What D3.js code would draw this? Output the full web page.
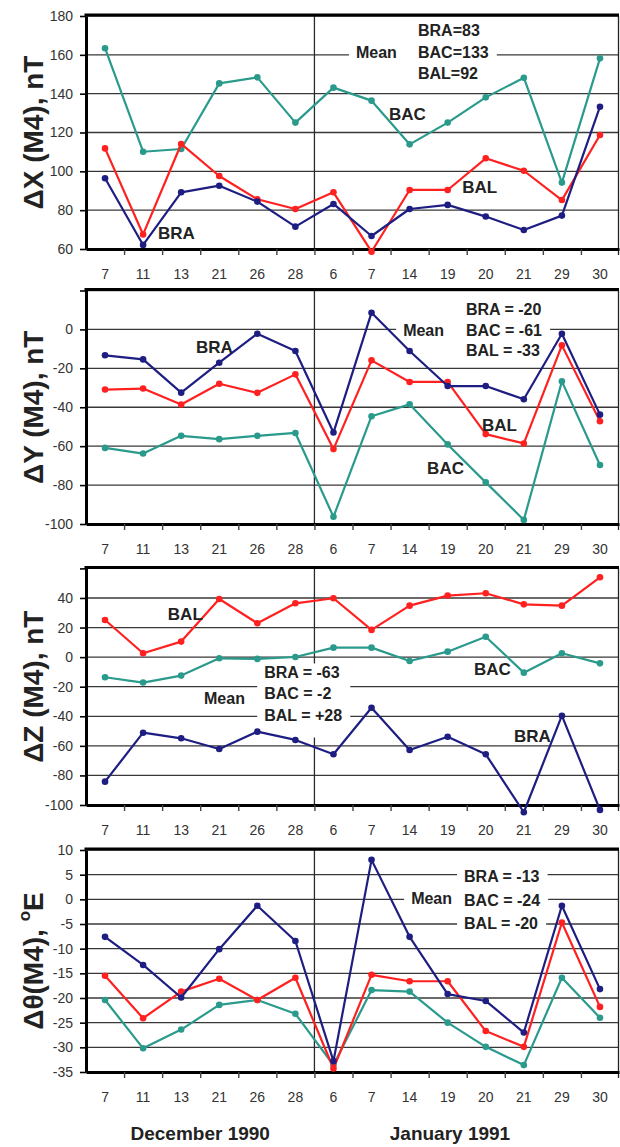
<!DOCTYPE html>
<html><head><meta charset="utf-8">
<script src="https://cdn.jsdelivr.net/npm/d3@7"></script>
<style>body{margin:0;background:#fff}svg{display:block}</style>
</head><body>
<script>
// ---------- data ----------
const dates = ["7","11","13","21","26","28","6","7","14","19","20","21","29","30"];
const keys = dates.map((d,i)=>(i<6?"Dec ":"Jan ")+d);
const months = ["December 1990","January 1991"];
const seriesNames = ["BAC","BAL","BRA"];

const dxBAC = [163.4,110.1,111.5,145.3,148.4,125.1,143.1,136.4,113.9,125.1,138.1,148.2,94.2,158.2];
const dxBAL = [111.8,67.5,114.1,97.6,85.6,80.6,89.2,58.6,90.4,90.4,106.7,100.3,85.2,118.7];
const dxBRA = [96.4,62.1,89.2,92.6,84.4,71.5,83.2,66.7,80.6,82.7,76.7,69.8,77.2,133.3];

const dyBAC = [-60.9,-63.8,-54.7,-56.4,-54.7,-53.2,-96.3,-44.6,-38.5,-59.1,-78.6,-97.9,-26.7,-69.7];
const dyBAL = [-30.9,-30.4,-38.6,-27.9,-32.6,-23.1,-61.5,-15.9,-27.0,-27.0,-53.8,-58.6,-8.2,-47.2];
const dyBRA = [-13.3,-15.4,-32.5,-17.1,-2.2,-11.1,-53.0,8.6,-11.1,-29.1,-29.1,-35.9,-2.2,-43.8];

const dzBAC = [-13.6,-17.2,-12.5,-0.8,-1.2,0.1,6.4,6.4,-2.6,3.7,13.8,-10.5,2.6,-4.2];
const dzBAL = [25.1,2.6,10.5,39.3,22.9,36.4,39.8,18.4,34.8,41.6,43.2,35.7,34.8,54.0];
const dzBRA = [-84.2,-51.1,-54.9,-62.1,-50.4,-56.0,-65.7,-34.2,-62.8,-53.8,-65.7,-104.9,-39.6,-103.3];

const dtBAC = [-20.4,-30.2,-26.4,-21.4,-20.4,-23.2,-33.6,-18.4,-18.7,-25.0,-29.9,-33.6,-15.9,-24.0];
const dtBAL = [-15.5,-24.1,-18.7,-16.1,-20.4,-15.9,-34.3,-15.3,-16.6,-16.6,-26.7,-29.9,-4.7,-21.8];
const dtBRA = [-7.6,-13.3,-19.9,-10.1,-1.3,-8.45,-32.8,8.0,-7.6,-19.2,-20.6,-27.0,-1.3,-18.2];

const yTicks1 = [60,80,100,120,140,160,180];
const yTicks2 = [-100,-80,-60,-40,-20,0,20];
const yTicks3 = [-100,-80,-60,-40,-20,0,20,40,60];
const yTicks4 = [-35,-30,-25,-20,-15,-10,-5,0,5,10];
const hidden2 = [20], hidden3 = [60];

const titles = ["\u0394X (M4), nT","\u0394Y (M4), nT","\u0394Z (M4), nT"];

const means1 = ["BRA=83","BAC=133","BAL=92"];
const means2 = ["BRA = -20","BAC = -61","BAL = -33"];
const means3 = ["BRA = -63","BAC = -2","BAL = +28"];
const means4 = ["BRA = -13","BAC = -24","BAL = -20"];

// ---------- layout / style ----------
const colors = {BAC:"#2a9a8c", BAL:"#ff2020", BRA:"#1e1e82"};
const W=620, H=1147, L=86, R=619;
const FONT = "'Liberation Sans', Arial, Helvetica, sans-serif";

const panels = [
  {series:{BAC:dxBAC,BAL:dxBAL,BRA:dxBRA}, ticks:yTicks1, hidden:[], top:16, bottom:249, title:titles[0],
   labels:[{t:"BAC",s:7.96,v:129.5},{t:"BAL",s:9.88,v:91.9},{t:"BRA",s:1.89,v:68.2}],
   texts:[{t:"Mean",s:7.09,v:161.3,m:"a"},{t:means1[0],s:8.72,v:172.3},{t:means1[1],s:8.72,v:161.3,m:"a"},{t:means1[2],s:8.72,v:150.6}]},
  {series:{BAC:dyBAC,BAL:dyBAL,BRA:dyBRA}, ticks:yTicks2, hidden:hidden2, top:290.5, bottom:524, title:titles[1],
   labels:[{t:"BRA",s:2.89,v:-9.2},{t:"BAL",s:10.4,v:-49.2},{t:"BAC",s:8.96,v:-71.3}],
   texts:[{t:"Mean",s:8.33,v:-0.5,m:"a"},{t:means2[0],s:9.98,v:10.3},{t:means2[1],s:9.98,v:-0.5,m:"a"},{t:means2[2],s:9.98,v:-10.8}]},
  {series:{BAC:dzBAC,BAL:dzBAL,BRA:dzBRA}, ticks:yTicks3, hidden:hidden3, top:568.4, bottom:805, title:titles[2],
   labels:[{t:"BAL",s:2.15,v:28.5},{t:"BAC",s:10.19,v:-8.7},{t:"BRA",s:11.24,v:-54}],
   texts:[{t:"Mean",s:3.10,v:-28.3},{t:means3[0],s:4.68,v:-10.7,m:"b"},{t:means3[1],s:4.68,v:-24.9,m:"b"},{t:means3[2],s:4.68,v:-39.8,m:"b"}],
   padB:12},
  {series:{BAC:dtBAC,BAL:dtBAL,BRA:dtBRA}, ticks:yTicks4, hidden:[], top:850, bottom:1072, title:null,
   labels:[],
   texts:[{t:"Mean",s:8.54,v:0.2,m:"b"},{t:means4[0],s:9.93,v:4.7,m:"a"},{t:means4[1],s:9.93,v:-0.3,m:"b"},{t:means4[2],s:9.93,v:-4.8,m:"c"}]}
];

const svg = d3.select("body").append("svg").attr("width",W).attr("height",H)
  .style("font-family",FONT);

const x = d3.scaleBand().domain(keys).range([L,R]);
const slot = d3.scaleLinear().domain([0,keys.length]).range([L,R]);

panels.forEach((p,pi)=>{
  const y = d3.scaleLinear().domain(d3.extent(p.ticks)).range([p.bottom,p.top]);
  const g = svg.append("g");
  const gGrid = g.append("g"), gMask = g.append("g"), gAxis = g.append("g"),
        gData = g.append("g"), gText = g.append("g");

  // gridlines
  gGrid.selectAll("line.h").data(p.ticks).join("line")
    .attr("x1",L).attr("x2",R).attr("y1",d=>y(d)).attr("y2",d=>y(d))
    .attr("stroke","#383838").attr("stroke-width",1.3);
  // month divider
  gGrid.append("line").attr("x1",slot(6)).attr("x2",slot(6))
    .attr("y1",p.top).attr("y2",p.bottom).attr("stroke","#2a2a2a").attr("stroke-width",1.3);
  // right frame
  gGrid.append("line").attr("x1",R-0.5).attr("x2",R-0.5)
    .attr("y1",p.top).attr("y2",p.bottom+6).attr("stroke","#222").attr("stroke-width",1.3);

  // left axis
  const ax = gAxis.append("g").attr("transform",`translate(${L},0)`)
    .call(d3.axisLeft(y).tickValues(p.ticks).tickSize(6).tickSizeOuter(0).tickPadding(7)
      .tickFormat(d=>p.hidden.includes(d)?"":d));
  ax.select(".domain").attr("stroke","#000").attr("stroke-width",3);
  ax.selectAll(".tick line").attr("stroke","#000").attr("stroke-width",1.6);
  ax.selectAll(".tick text").attr("font-size",14).attr("fill","#333").attr("font-family",FONT);

  // bottom axis with category labels
  const bx = gAxis.append("g").attr("transform",`translate(0,${p.bottom})`)
    .call(d3.axisBottom(x).tickSize(0).tickSizeOuter(0).tickPadding(20).tickFormat((d,i)=>dates[i]));
  bx.select(".domain").attr("stroke","#000").attr("stroke-width",3);
  bx.selectAll(".tick text").attr("font-size",14).attr("fill","#333").attr("font-family",FONT);
  // boundary ticks
  const bt = gAxis.append("g").attr("transform",`translate(0,${p.bottom})`)
    .call(d3.axisBottom(slot).tickValues(d3.range(1,keys.length)).tickSize(6).tickFormat(""));
  bt.select(".domain").remove();
  bt.selectAll(".tick line").attr("stroke","#444").attr("stroke-width",1.4);
  // top frame
  gAxis.append("line").attr("x1",L-1.5).attr("x2",R).attr("y1",p.top-1).attr("y2",p.top-1)
    .attr("stroke","#000").attr("stroke-width",3);

  // data
  const line = d3.line().x((d,i)=>x(keys[i])+x.bandwidth()/2).y(d=>y(d));
  seriesNames.forEach(name=>{
    const vals = p.series[name];
    gData.append("path").datum(vals).attr("d",line).attr("fill","none")
      .attr("stroke",colors[name]).attr("stroke-width",2.2).attr("stroke-linejoin","round");
    gData.selectAll(null).data(vals).join("circle")
      .attr("cx",(d,i)=>x(keys[i])+x.bandwidth()/2).attr("cy",d=>y(d)).attr("r",3.3)
      .attr("fill",colors[name]);
  });

  // series labels
  gText.selectAll(null).data(p.labels).join("text")
    .attr("x",d=>slot(d.s)).attr("y",d=>y(d.v)).attr("dominant-baseline","central")
    .attr("font-size",17).attr("font-weight","bold").attr("fill","#222").text(d=>d.t);

  // mean annotations
  const tt = gText.selectAll(null).data(p.texts).join("text")
    .attr("x",d=>slot(d.s)).attr("y",d=>y(d.v)).attr("dominant-baseline","central")
    .attr("font-size",16).attr("font-weight","bold").attr("fill","#222").text(d=>d.t);
  // white masks behind grouped annotations
  const groups = {};
  tt.each(function(d){
    if(!d.m) return;
    const b=this.getBBox();
    const gr = groups[d.m] || (groups[d.m]={x0:1e9,y0:1e9,x1:-1e9,y1:-1e9});
    gr.x0=Math.min(gr.x0,b.x); gr.y0=Math.min(gr.y0,b.y);
    gr.x1=Math.max(gr.x1,b.x+b.width); gr.y1=Math.max(gr.y1,b.y+b.height);
  });
  Object.values(groups).forEach(gr=>{
    gMask.append("rect").attr("x",gr.x0-7).attr("y",gr.y0-1)
      .attr("width",gr.x1-gr.x0+15).attr("height",gr.y1-gr.y0+2+(p.padB||0))
      .attr("fill","#fff");
  });

  // y title
  const tx = svg.append("text").attr("transform",`translate(43,${(p.top+p.bottom)/2}) rotate(-90)`)
    .attr("text-anchor","middle").attr("font-size",28).attr("font-weight","bold").attr("fill","#222");
  if(p.title){ tx.text(p.title); }
  else {
    tx.append("tspan").text("\u0394\u03b8(M4), ");
    tx.append("tspan").attr("font-size",17).attr("dy",-13).text("o");
    tx.append("tspan").attr("dy",13).text("E");
  }
});

// month labels
svg.selectAll("text.month").data(months).join("text")
  .attr("x",(d,i)=>slot(i===0?3:9.56)).attr("y",1133).attr("text-anchor","middle")
  .attr("dominant-baseline","central").attr("font-size",19).attr("font-weight","bold")
  .attr("fill","#222").text(d=>d);
</script>
</body></html>
